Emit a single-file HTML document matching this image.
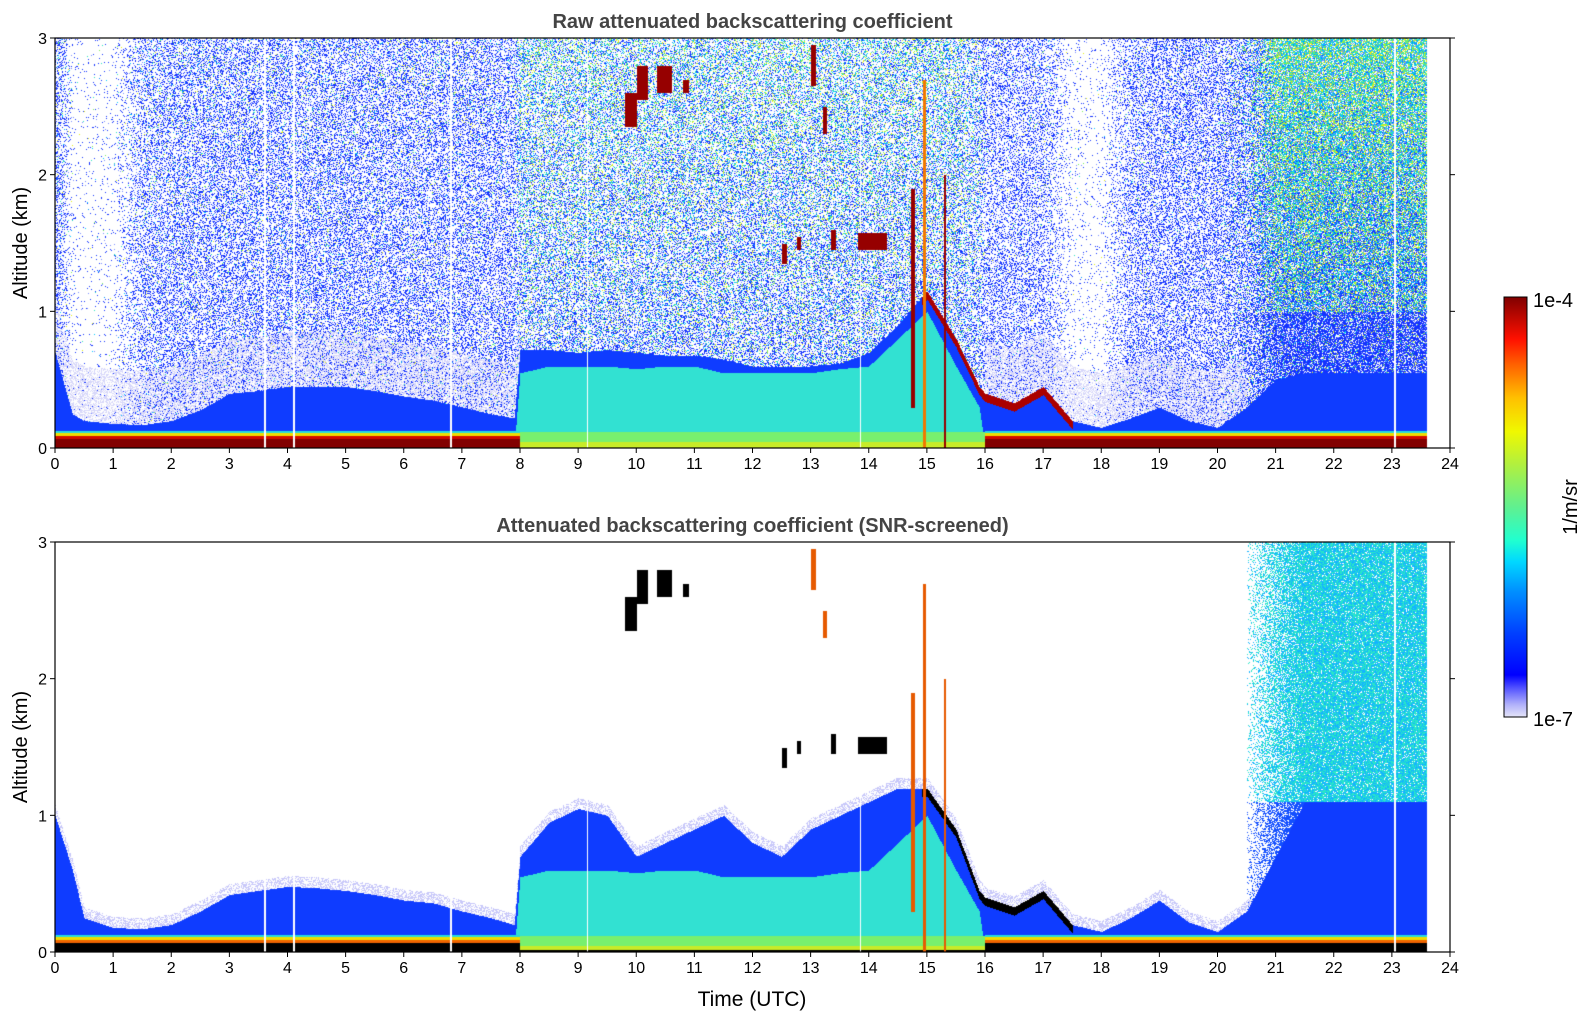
<!DOCTYPE html>
<html><head><meta charset="utf-8">
<style>
body{margin:0;background:#fff;width:1595px;height:1020px;overflow:hidden;font-family:"Liberation Sans","DejaVu Sans",sans-serif;}
#wrap{position:relative;width:1595px;height:1020px;}
canvas{position:absolute;}
svg{position:absolute;left:0;top:0;}
</style></head>
<body><div id="wrap">
<canvas id="c1" width="1395" height="410" style="left:55px;top:38px"></canvas>
<canvas id="c2" width="1395" height="410" style="left:55px;top:542px"></canvas>
<svg id="ax" width="1595" height="1020"></svg>
</div>
<script>
// ---- data (knots in hours UTC) ----
const times = [0,0.3,0.5,1,1.5,2,2.5,3,3.5,4,4.5,5,5.5,6,6.5,7,7.5,7.9,8.0,8.5,9,9.5,10,10.5,11,11.5,12,12.5,13,13.5,14,14.5,15,15.5,15.9,16.0,16.5,17,17.5,18,18.5,19,19.5,20,20.5,21,21.5,22,22.5,23,23.5,24];
const blueTopRaw = [0.7,0.25,0.2,0.18,0.17,0.2,0.28,0.4,0.42,0.45,0.45,0.45,0.42,0.38,0.35,0.3,0.25,0.22,0.72,0.72,0.7,0.72,0.7,0.68,0.68,0.65,0.6,0.6,0.6,0.62,0.7,0.9,1.15,0.8,0.45,0.4,0.33,0.45,0.2,0.15,0.22,0.3,0.2,0.15,0.3,0.5,0.55,0.55,0.55,0.55,0.55,0.55];
const cyanTop = [0,0,0,0,0,0,0,0,0,0,0,0,0,0,0,0,0,0,0.55,0.6,0.6,0.6,0.58,0.6,0.6,0.55,0.55,0.55,0.55,0.58,0.6,0.8,1.0,0.6,0.3,0,0,0,0,0,0,0,0,0,0,0,0,0,0,0,0,0];
const blueTopSnr = [1.0,0.6,0.25,0.18,0.17,0.2,0.3,0.42,0.45,0.48,0.47,0.45,0.42,0.38,0.36,0.3,0.25,0.2,0.7,0.95,1.05,1.0,0.7,0.8,0.9,1.0,0.8,0.7,0.9,1.0,1.1,1.2,1.2,0.9,0.45,0.4,0.33,0.45,0.2,0.15,0.25,0.38,0.22,0.15,0.3,0.7,1.1,1.1,1.1,1.1,1.1,1.1];
const speckleDensity = [0.45,0.05,0.03,0.05,0.3,0.35,0.35,0.35,0.35,0.35,0.35,0.35,0.35,0.35,0.35,0.35,0.35,0.35,0.4,0.4,0.4,0.4,0.4,0.4,0.4,0.4,0.4,0.4,0.4,0.4,0.4,0.4,0.4,0.4,0.35,0.3,0.3,0.3,0.05,0.05,0.3,0.35,0.35,0.35,0.45,0.75,0.8,0.8,0.8,0.8,0.8,0.8];
const speckleWarmth = [0.1,0.1,0.1,0.1,0.1,0.1,0.1,0.1,0.1,0.1,0.1,0.1,0.1,0.1,0.1,0.1,0.1,0.1,0.4,0.4,0.4,0.4,0.4,0.4,0.4,0.4,0.4,0.4,0.4,0.4,0.4,0.4,0.4,0.4,0.3,0.05,0.05,0.05,0.05,0.05,0.05,0.05,0.05,0.05,0.2,0.6,0.6,0.6,0.6,0.6,0.6,0.6];
const snrUpperDensity = [0,0,0,0,0,0,0,0,0,0,0,0,0,0,0,0,0,0,0,0,0,0,0,0,0,0,0,0,0,0,0,0,0,0,0,0,0,0,0,0,0,0,0,0,0.1,0.6,0.9,0.9,0.9,0.9,0.9,0.9];
// cloud blobs: [tStart, tEnd, altBottom, altTop]
const cloudT0 = [9.8,10.0,10.35,10.8,12.5,12.75,13.35,13.8,14.72,14.92,15.28,13.0,13.2];
const cloudT1 = [10.0,10.2,10.6,10.9,12.58,12.82,13.43,14.3,14.78,14.97,15.32,13.08,13.28];
const cloudA0 = [2.35,2.55,2.6,2.6,1.35,1.45,1.45,1.45,0.3,0.0,0.0,2.65,2.3];
const cloudA1 = [2.6,2.8,2.8,2.7,1.5,1.55,1.6,1.58,1.9,2.7,2.0,2.95,2.5];
const gapTimes = [3.6,4.1,6.8,9.15,13.85,23.05];
const dataEnd = 23.6;
const xTicks = [0,1,2,3,4,5,6,7,8,9,10,11,12,13,14,15,16,17,18,19,20,21,22,23,24];
const yTicks = [0,1,2,3];

const W=1395,H=410,T0=0,T1=24,A1=3;
function xs(t){return t/(T1-T0)*W;}
function ys(a){return H - a/A1*H;}
function interp(arr,t){let i=0;while(i<times.length-2&&times[i+1]<=t)i++;const f=Math.max(0,Math.min(1,(t-times[i])/(times[i+1]-times[i])));return arr[i]*(1-f)+arr[i+1]*f;}
function hash(i,j){let h=Math.imul(i,374761393)+Math.imul(j,668265263);h=Math.imul(h^(h>>>13),1274126177);return ((h^(h>>>16))>>>0)/4294967296;}
const warmPal=[[0,200,255],[40,230,190],[120,240,90],[230,240,20],[0,150,255]];
function drawPanel(id,snr){
  const ctx=document.getElementById(id).getContext('2d');
  const img=ctx.createImageData(W,H);const d=img.data;
  for(let px=0;px<W;px++){
    const t=px/W*24;
    const gap=gapTimes.some(g=>Math.abs(xs(g)-px)<0.8);
    const bt=interp(snr?blueTopSnr:blueTopRaw,t), ct=interp(cyanTop,t);
    const sd=interp(speckleDensity,t), sw=interp(speckleWarmth,t), ud=interp(snrUpperDensity,t);
    const conv = (t>=8&&t<16);
    for(let py=0;py<H;py++){
      const a=(H-py)/H*A1;let c=[255,255,255];
      if(t>dataEnd||gap){c=[255,255,255];}
      else{
        if(conv&&a<0.12){c=snr&&a<0.02?[0,0,0]:(a<0.05?[200,235,40]:[120,240,110]);}
        else if(!conv&&a<0.07){c=snr?[0,0,0]:[130,0,0];}
        else if(!conv&&a<0.09){c=snr?[240,100,0]:[210,10,0];}
        else if(!conv&&a<0.11){c=[240,220,0];}
        else if(!conv&&a<0.13){c=[40,220,220];}
        else if(a<ct){c=[50,225,210];}
        else if(a<bt){c=(a>bt-0.06&&t>14.9&&t<17.5)?(snr?[0,0,0]:[170,0,0]):[15,60,255];}
        else{
          const h=hash(px,py);
          if(!snr){
            if(!conv&&t<20.5&&a<bt+0.4&&hash(px+3,py+17)<0.45){c=[215,215,250];}
            else if(h<sd){const h2=hash(py+7,px+3);let w=sw*(0.5+a/3);if(t>20.5&&a<1.0)w=0.1;
              if(h2<w){c=warmPal[Math.floor(hash(px+11,py+5)*5)];}else{c=h2<w+0.12?[120,140,255]:[20,50,255];}}
          } else {
            if(t>20.5&&h<ud){c=a<1.1?[20,80,255]:(hash(py,px+9)<0.5?[40,230,200]:[20,180,255]);}
            else if(a<bt+0.08&&h<0.5){c=[200,200,250];}
          }
        }
      }
      for(let k=0;k<cloudT0.length;k++){
        if(t>=cloudT0[k]&&t<cloudT1[k]&&a>=cloudA0[k]&&a<cloudA1[k]){c=snr?(k>=8?[230,90,0]:[0,0,0]):(k==9?[240,120,0]:[150,0,0]);}
      }
      const o=(py*W+px)*4;d[o]=c[0];d[o+1]=c[1];d[o+2]=c[2];d[o+3]=255;
    }
  }
  ctx.putImageData(img,0,0);
}
drawPanel('c1',false);drawPanel('c2',true);

// ---- axes ----
const svg=document.getElementById('ax');const NS='http://www.w3.org/2000/svg';
function el(tag,attrs,txt){const e=document.createElementNS(NS,tag);for(const k in attrs)e.setAttribute(k,attrs[k]);if(txt!==undefined)e.textContent=txt;svg.appendChild(e);return e;}
function axes(top,title,name){
  const L=55,R=1450,B=top+410;
  let f=el('rect',{x:L,y:top,width:R-L,height:410,fill:'none',stroke:'#000','stroke-width':1.2});
  
  xTicks.forEach(v=>{const x=L+xs(v);
    el('line',{x1:x,x2:x,y1:B,y2:B+5,stroke:'#000'});
    let t=el('text',{x:x,y:B+21,'font-size':16,'text-anchor':'middle'},String(v));
    });
  yTicks.forEach(v=>{const y=top+ys(v);
    el('line',{x1:L-5,x2:L,y1:y,y2:y,stroke:'#000'});
    el('line',{x1:R,x2:R+5,y1:y,y2:y,stroke:'#000'});
    let t=el('text',{x:L-8,y:y+6,'font-size':16,'text-anchor':'end'},String(v));
    });
  let tt=el('text',{x:(L+R)/2,y:top-10,'font-size':20,'font-weight':'bold','text-anchor':'middle',fill:'#444'},title);
  
  let yl=el('text',{x:0,y:0,'font-size':20,'text-anchor':'middle',transform:`translate(27,${top+205}) rotate(-90)`},'Altitude (km)');
  
}
axes(38,'Raw attenuated backscattering coefficient','raw-panel');
axes(542,'Attenuated backscattering coefficient (SNR-screened)','snr-panel');
let xl=el('text',{x:752,y:1006,'font-size':21,'text-anchor':'middle'},'Time (UTC)');

// colorbar
const cbStops=[[0,'#e4e4f8'],[0.03,'#b0b0fa'],[0.07,'#5050ff'],[0.1,'#0000ff'],[0.2,'#0040ff'],[0.3,'#0090ff'],[0.37,'#00d8ff'],[0.42,'#20ffd0'],[0.5,'#60f090'],[0.6,'#b0f040'],[0.68,'#f0f800'],[0.76,'#ffc000'],[0.84,'#ff6000'],[0.9,'#ff1000'],[1,'#800000']];
const defs=el('defs',{});const g=document.createElementNS(NS,'linearGradient');g.setAttribute('id','cbg');g.setAttribute('x1',0);g.setAttribute('y1',1);g.setAttribute('x2',0);g.setAttribute('y2',0);defs.appendChild(g);
cbStops.forEach(s=>{const st=document.createElementNS(NS,'stop');st.setAttribute('offset',s[0]);st.setAttribute('stop-color',s[1]);g.appendChild(st);});
let cb=el('rect',{x:1504,y:297,width:23,height:420,fill:'url(#cbg)',stroke:'#000','stroke-width':1});

let c1=el('text',{x:1533,y:307,'font-size':20},'1e-4');
let c2=el('text',{x:1533,y:726,'font-size':20},'1e-7');
let cu=el('text',{x:0,y:0,'font-size':20,'text-anchor':'middle',transform:'translate(1577,507) rotate(-90)'},'1/m/sr');
</script></body></html>
